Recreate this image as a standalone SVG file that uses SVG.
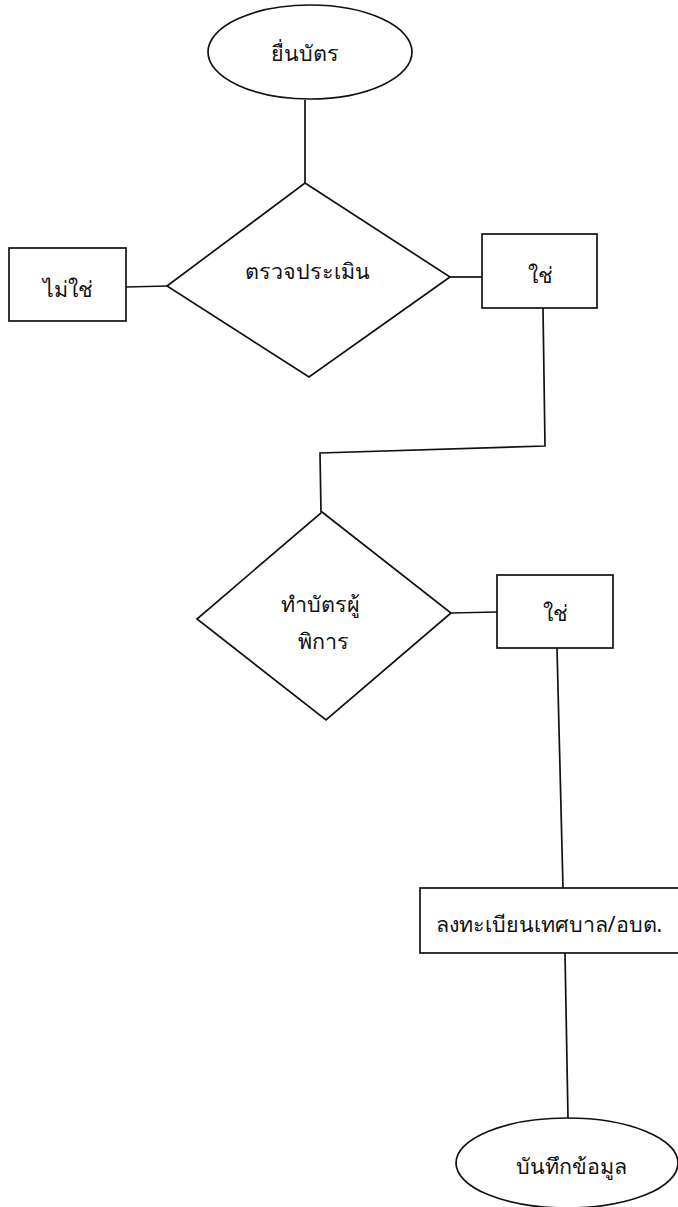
<svg xmlns="http://www.w3.org/2000/svg" width="678" height="1207" viewBox="0 0 678 1207">
  <style>
    .shape { fill: #ffffff; stroke: #111111; stroke-width: 1.7; }
    .link { fill: none; stroke: #111111; stroke-width: 1.7; }
    .label { font-family: "Noto Sans", "Liberation Sans", sans-serif; font-size: 21.5px; fill: #111111; text-anchor: middle; }
  </style>
  <rect width="678" height="1207" fill="#ffffff"/>

  <!-- connectors -->
  <g id="connectors">
    <polyline class="link" points="305,100 305,183"/>
    <polyline class="link" points="126,287 167,286"/>
    <polyline class="link" points="450,277 482,277"/>
    <polyline class="link" points="543,308 545,446 320,453 321,512"/>
    <polyline class="link" points="451,613 497,612"/>
    <polyline class="link" points="557,648 563,888"/>
    <polyline class="link" points="565,953 568,1118"/>
  </g>

  <!-- start: submit card -->
  <g id="start">
    <ellipse class="shape" cx="310" cy="52" rx="102" ry="47"/>
    <text class="label" x="305" y="61">ยื่นบัตร</text>
  </g>

  <!-- decision: assessment -->
  <g id="assess">
    <polygon class="shape" points="305,183 450,277 309,377 167,286"/>
    <text class="label" x="307" y="279">ตรวจประเมิน</text>
  </g>

  <!-- outcome: no -->
  <g id="no">
    <rect class="shape" x="9" y="248" width="117" height="73"/>
    <text class="label" x="68" y="297">ไม่ใช่</text>
  </g>

  <!-- outcome: yes -->
  <g id="yes1">
    <rect class="shape" x="482" y="234" width="115" height="74"/>
    <text class="label" x="540" y="283">ใช่</text>
  </g>

  <!-- decision: make disability card -->
  <g id="make-card">
    <polygon class="shape" points="322,512 451,613 326,720 197,619"/>
    <text class="label" x="320" y="612">ทำบัตรผู้</text>
    <text class="label" x="323" y="649">พิการ</text>
  </g>

  <!-- outcome: yes -->
  <g id="yes2">
    <rect class="shape" x="497" y="575" width="116" height="73"/>
    <text class="label" x="555" y="621">ใช่</text>
  </g>

  <!-- registration step -->
  <g id="register">
    <rect class="shape" x="420" y="888" width="262" height="65"/>
    <text class="label" x="549" y="932">ลงทะเบียนเทศบาล/อบต.</text>
  </g>

  <!-- end: record data -->
  <g id="record">
    <ellipse class="shape" cx="567" cy="1163" rx="111" ry="45"/>
    <text class="label" x="571" y="1174">บันทึกข้อมูล</text>
  </g>
</svg>
